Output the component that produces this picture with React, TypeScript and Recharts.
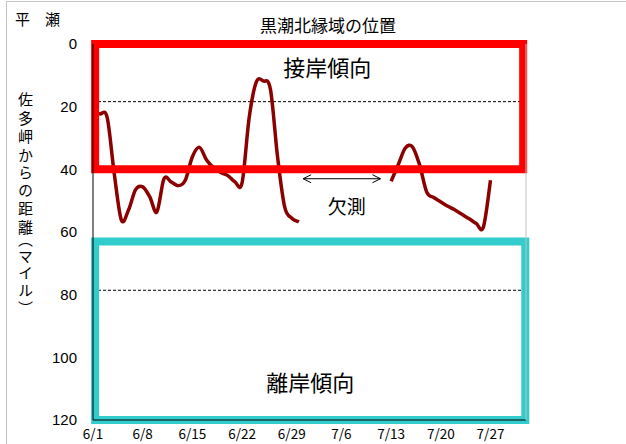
import { Line, LineChart, ReferenceArea, ReferenceLine, XAxis, YAxis } from 'recharts';

// day index from 6/1 (0) and distance from 佐多岬 (miles); null = 欠測
const days = [
  0, 1, 2, 3, 4, 5, 6, 7, 8, 9, 10, 11, 12, 13, 14, 15, 16, 17, 18, 19, 20, 21, 22, 23, 24, 25, 26, 27, 28, 29,
  35,
  42, 43, 44, 45, 46, 47, 48, 49, 50, 51, 52, 53, 54, 55, 56,
];
const distance: (number | null)[] = [
  22.5, 22.3, 23.5, 41.5, 56.2, 53, 46.5, 45.6, 48.8, 53.6, 43, 44, 45.2, 43.5, 36, 33, 37, 39.5, 41, 42, 44, 44.3,
  23.5, 12.2, 11.8, 14.5, 36, 52, 55.6, 56.8,
  null,
  43.8, 38.5, 33.2, 32.8, 38.5, 47.2, 49, 50.4, 51.8, 53, 54.4, 55.8, 57.3, 58.4, 43.5,
];

const xTicks = [0, 7, 14, 21, 28, 35, 42, 49, 56];
const xTickLabels = ['6/1', '6/8', '6/15', '6/22', '6/29', '7/6', '7/13', '7/20', '7/27'];
const yTicks = [0, 20, 40, 60, 80, 100, 120];

const stationTicks = [0, 20, 45, 65, 82];
const stationNames = ['佐多岬', '竹　島', '屋久島御崎', '平　瀬', '中之島'];

const dashedLevels = [18.4, 78.6];
const gapArrow = { from: 29.6, to: 40.5, level: 43 };

const data = days.map((d, i) => ({ day: d, dist: distance[i] }));

const JP = '"Noto Sans CJK JP", "Noto Sans", sans-serif';

// Excel-like smoothed line (Catmull-Rom through every point)
function smoothCurve(context: any) {
  let pts: number[][] = [];
  return {
    areaStart() {},
    areaEnd() {},
    lineStart() {
      pts = [];
    },
    point(x: number, y: number) {
      pts.push([+x, +y]);
    },
    lineEnd() {
      if (!pts.length) return;
      context.moveTo(pts[0][0], pts[0][1]);
      for (let i = 0; i < pts.length - 1; i++) {
        const p0 = pts[i - 1] || pts[i];
        const p1 = pts[i];
        const p2 = pts[i + 1];
        const p3 = pts[i + 2] || p2;
        context.bezierCurveTo(
          p1[0] + (p2[0] - p0[0]) / 6,
          p1[1] + (p2[1] - p0[1]) / 6,
          p2[0] - (p3[0] - p1[0]) / 6,
          p2[1] - (p3[1] - p1[1]) / 6,
          p2[0],
          p2[1],
        );
      }
    },
  };
}

function StationTick(props: any) {
  const { x, y, payload } = props;
  const idx = stationTicks.indexOf(payload.value);
  return (
    <text x={x} y={y} dy="0.35em" fontSize={16} fontFamily={JP} fill="#000" textAnchor="start">
      {stationNames[idx]}
    </text>
  );
}

function GapArrow(props: any) {
  const { x1, y1, x2 } = props;
  if (x1 == null) return <g />;
  const y = y1;
  return (
    <g>
      <line x1={x1} y1={y} x2={x2} y2={y} stroke="#000" strokeWidth={1} />
      <polyline points={`${x1 + 8},${y - 4} ${x1},${y} ${x1 + 8},${y + 4}`} fill="none" stroke="#000" strokeWidth={1} />
      <polyline points={`${x2 - 8},${y - 4} ${x2},${y} ${x2 - 8},${y + 4}`} fill="none" stroke="#000" strokeWidth={1} />
      <text x={(x1 + x2) / 2 + 5} y={y + 27} fontSize={19} fontFamily={JP} fill="#000" textAnchor="middle" dominantBaseline="central">
        欠測
      </text>
    </g>
  );
}

export default function App() {
  return (
    <div
      style={{
        position: 'absolute',
        left: 0,
        top: 0,
        width: 626,
        height: 444,
        overflow: 'hidden',
        background: '#fff',
        fontFamily: JP,
      }}
    >
      <div
        style={{
          position: 'absolute',
          left: 6,
          top: 1,
          width: 700,
          height: 500,
          border: '1px solid #c4c4c4',
        }}
      />
      <div style={{ position: 'absolute', left: 15, top: 10, fontSize: 15, lineHeight: '18px', color: '#000' }}>
        平　瀬
      </div>
      <div
        style={{
          position: 'absolute',
          left: 228,
          top: 14,
          width: 200,
          textAlign: 'center',
          fontSize: 17,
          lineHeight: '22px',
          color: '#000',
        }}
      >
        黒潮北縁域の位置
      </div>
      <div
        style={{
          position: 'absolute',
          left: 18,
          top: 92,
          writingMode: 'vertical-rl',
          fontSize: 15,
          lineHeight: '15px',
          letterSpacing: '3.6px',
          fontFeatureSettings: '"vpal"',
          color: '#000',
        }}
      >
        佐多岬からの距離（マイル）
      </div>
      <div style={{ position: 'absolute', left: 0, top: 0 }}>
        <LineChart width={626} height={444} data={data} margin={{ top: 44, right: 0, bottom: 0, left: 0 }}>
          <XAxis
            dataKey="day"
            type="number"
            domain={[0, 61]}
            ticks={xTicks}
            tickFormatter={(v: number) => xTickLabels[xTicks.indexOf(v)]}
            height={24}
            tickLine={false}
            tickSize={0}
            tickMargin={9}
            axisLine={{ stroke: '#000' }}
            tick={{ fontSize: 13.5, fill: '#000', fontFamily: JP }}
            interval={0}
          />
          <YAxis
            type="number"
            domain={[0, 120]}
            reversed
            ticks={yTicks}
            width={93}
            tickLine={false}
            tickSize={0}
            tickMargin={16}
            axisLine={{ stroke: '#000' }}
            tick={{ fontSize: 15, fill: '#000', fontFamily: '"Liberation Sans", Arial, sans-serif' }}
            interval={0}
          />
          <YAxis
            yAxisId="r"
            orientation="right"
            type="number"
            domain={[0, 120]}
            reversed
            ticks={stationTicks}
            width={100}
            tickLine={false}
            tickSize={0}
            tickMargin={14}
            axisLine={{ stroke: '#c0c0c0' }}
            tick={<StationTick />}
            interval={0}
          />
          {dashedLevels.map((lv) => (
            <ReferenceLine key={lv} y={lv} stroke="#000" strokeWidth={1} strokeDasharray="3 2" />
          ))}
          <Line
            dataKey="dist"
            type={smoothCurve as any}
            stroke="#8B0000"
            strokeWidth={3.5}
            dot={false}
            activeDot={false}
            connectNulls={false}
            isAnimationActive={false}
          />
          <ReferenceLine
            segment={[
              { x: gapArrow.from, y: gapArrow.level },
              { x: gapArrow.to, y: gapArrow.level },
            ]}
            shape={(p: any) => <GapArrow {...p} />}
          />
          <ReferenceArea
            x1={0.3}
            x2={60.6}
            y1={0}
            y2={40}
            fill="none"
            fillOpacity={0}
            stroke="#FF0000"
            strokeWidth={8}
            zIndex={450}
            label={{ value: '接岸傾向', position: 'insideTop', offset: 16, fontSize: 22, fill: '#000', fontFamily: JP, dx: 18 }}
          />
          <ReferenceArea
            x1={0.3}
            x2={60.9}
            y1={63}
            y2={120}
            fill="none"
            fillOpacity={0}
            stroke="#33CCCC"
            strokeWidth={8}
            zIndex={450}
            label={{ value: '離岸傾向', position: 'insideBottom', offset: 29, fontSize: 22, fill: '#000', fontFamily: JP }}
          />
        </LineChart>
      </div>
    </div>
  );
}
